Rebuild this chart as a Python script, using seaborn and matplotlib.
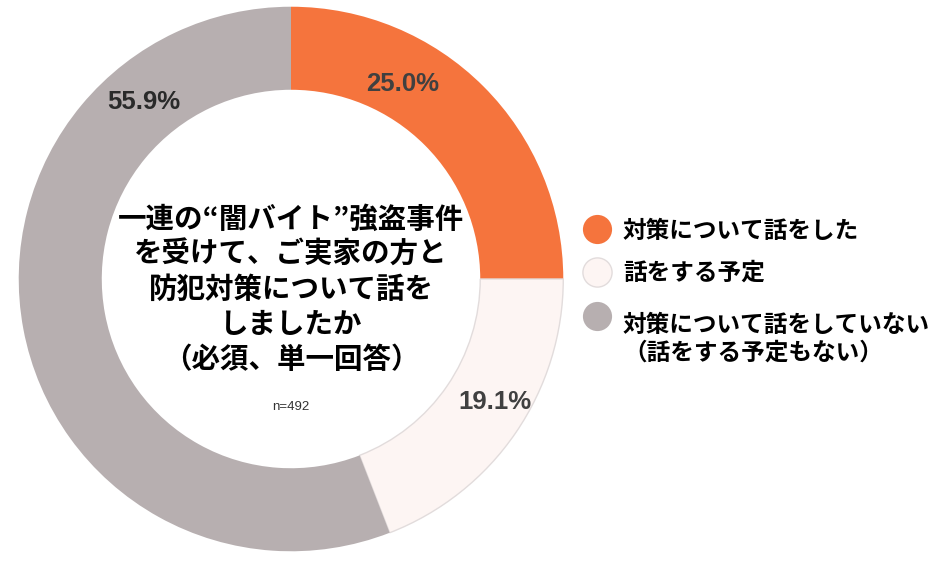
import matplotlib
matplotlib.use("Agg")
import matplotlib.pyplot as plt
import seaborn as sns
from matplotlib.lines import Line2D

# ---- data ----
categories = ["対策について話をした", "話をする予定", "対策について話をしていない\n（話をする予定もない）"]
values = [25.0, 19.1, 55.9]
pct_labels = ["25.0%", "19.1%", "55.9%"]
colors = ["#F5743D", "#FDF5F3", "#B7AFB0"]
center_title = "一連の“闇バイト”強盗事件\nを受けて、ご実家の方と\n防犯対策について話を\nしましたか\n（必須、単一回答）"
n_text = "n=492"

sns.set_theme(style="white")
plt.rcParams["font.family"] = ["Noto Sans CJK JP", "DejaVu Sans"]

W, H = 934, 565
fig = plt.figure(figsize=(W / 100, H / 100), dpi=100)
fig.patch.set_facecolor("white")

cx, cy, R = 291, 279, 275
ax = fig.add_axes([(cx - R) / W, (H - cy - R) / H, 2 * R / W, 2 * R / H])
wedges, _ = ax.pie(values, colors=colors, startangle=90, counterclock=False,
                   radius=1.0, wedgeprops=dict(width=0.305, linewidth=0))
wedges[1].set_edgecolor("#E2DCDC")
wedges[1].set_linewidth(1.0)
ax.set_xlim(-1.01, 1.01)
ax.set_ylim(-1.01, 1.01)
ax.set_aspect("equal")
ax.axis("off")

# percentage labels (layout positions in data units)
label_pos = [(0.41, 0.715), (0.75, -0.45), (-0.54, 0.65)]
label_col = ["#404040", "#404040", "#2a2a2a"]
for (x, y), t, c in zip(label_pos, pct_labels, label_col):
    ax.text(x, y, t, ha="center", va="center", fontsize=18.5, fontweight="bold",
            color=c, family=["Liberation Sans", "DejaVu Sans"])

# center text
ax.text(0.0, -0.04, center_title, ha="center", va="center", fontsize=20.5,
        fontweight="bold", color="#000000", linespacing=1.33,
        family=["Noto Sans CJK JP", "DejaVu Sans"])
ax.text(0.0, -0.47, n_text, ha="center", va="center", fontsize=9.5,
        color="#333333", family=["Liberation Sans", "DejaVu Sans"])

# legend (manual, figure pixel layout)
marker_y = [229, 272, 316]
text_y = [231, 273, 325]
for i, lab in enumerate(categories):
    fig.add_artist(Line2D([597 / W], [1 - marker_y[i] / H], marker="o", markersize=21,
                          markerfacecolor=colors[i],
                          markeredgecolor="#E2DCDC" if i == 1 else colors[i],
                          markeredgewidth=1.0 if i == 1 else 0, linestyle="none",
                          transform=fig.transFigure))
    for j, line in enumerate(lab.split("\n")):
        fig.text(623 / W, 1 - (text_y[i] + j * 28) / H, line, ha="left", va="center",
                 fontsize=17, fontweight="bold", color="#000000",
                 family=["Noto Sans CJK JP", "DejaVu Sans"])

fig.savefig("out.png", dpi=100, facecolor="white")
